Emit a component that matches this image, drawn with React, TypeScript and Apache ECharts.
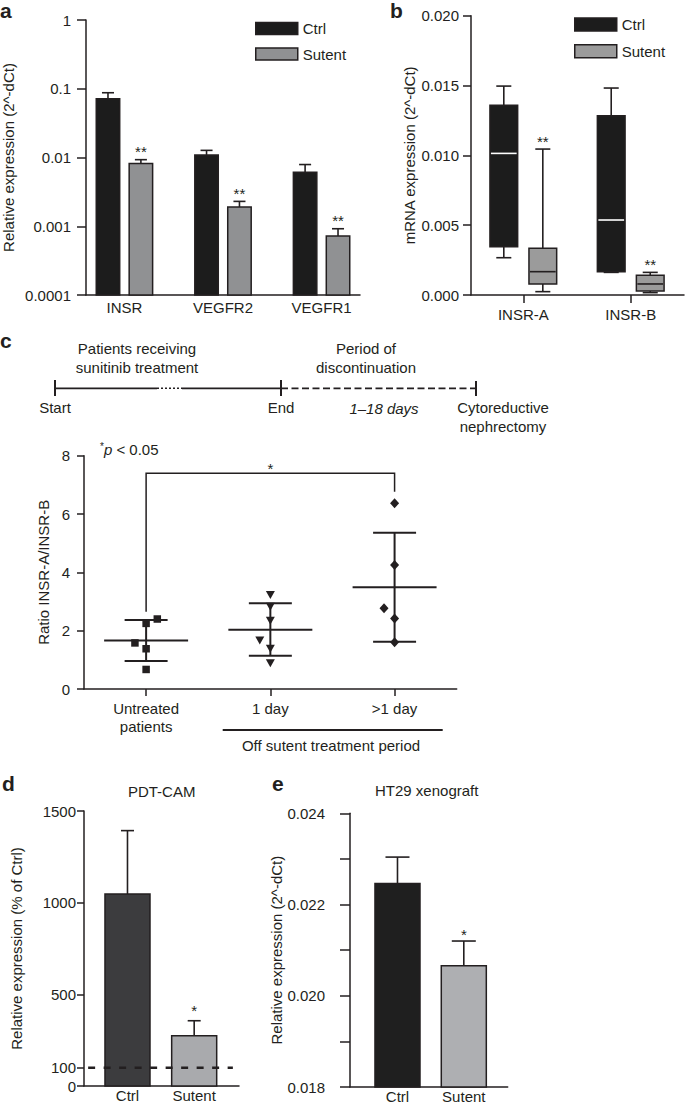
import React, { useEffect, useRef } from 'react';
import * as echarts from 'echarts';

const FONT = '"Liberation Sans", Arial, Helvetica, sans-serif';
const INK = '#231f20';

// ---------- Panel a ----------
const aCategories = ['INSR', 'VEGFR2', 'VEGFR1'];
const aCtrl = [0.0715, 0.0109, 0.0061];
const aCtrlUpper = [0.0875, 0.0127, 0.0079];
const aSutent = [0.0082, 0.0019, 0.00072];
const aSutentUpper = [0.0093, 0.0023, 0.00092];
const aSutentStars = ['**', '**', '**'];

// ---------- Panel b ---------- [min, q1, median, q3, max]
const bCategories = ['INSR-A', 'INSR-B'];
const bCtrlBox = [
  [0.00267, 0.00346, 0.01014, 0.01358, 0.01496],
  [0.00162, 0.00167, 0.00537, 0.01284, 0.01482],
];
const bSutentBox = [
  [0.00024, 0.00079, 0.00167, 0.00334, 0.01045],
  [0.00017, 0.00029, 0.00079, 0.00141, 0.00162],
];
const bSutentStars = ['**', '**'];

// ---------- Panel c ----------
const cCategories = ['Untreated\npatients', '1 day', '>1 day'];
const cUntreated = [2.4, 2.25, 1.58, 1.38, 0.67];
const cUntreatedJitter = [0.09, 0, -0.09, 0, 0];
const cOneDay = [3.22, 2.82, 2.34, 1.66, 1.38, 0.88];
const cOneDayJitter = [0, 0, 0, -0.085, 0, 0];
const cMoreDay = [6.37, 4.25, 2.77, 2.42, 1.6];
const cMoreDayJitter = [0, 0, -0.085, 0, 0];
const cMean = [1.66, 2.03, 3.49];
const cSdLow = [0.96, 1.14, 1.62];
const cSdHigh = [2.37, 2.94, 5.36];
const cBracketX = [0, 2];
const cBracketY = [2.65, 7.4, 6.76]; // left leg bottom, top, right leg bottom
const cYTicks = [0, 2, 4, 6, 8];

// ---------- Panel d ----------
const dCategories = ['Ctrl', 'Sutent'];
const dValues = [1047, 274];
const dUpper = [1393, 356];
const dStars = ['', '*'];
const dTicks = [0, 100, 500, 1000, 1500];
const dReference = 100;
const dReferenceSpan = [-0.59, 1.58];

// ---------- Panel e ----------
const eCategories = ['Ctrl', 'Sutent'];
const eValues = [0.02246, 0.02066];
const eUpper = [0.02304, 0.0212];
const eStars = ['', '*'];
const eTicks = [0.018, 0.019, 0.02, 0.021, 0.022, 0.023, 0.024];
const eLabelTicks = [0.018, 0.02, 0.022, 0.024];

const lineStyle = { color: INK, width: 1.5 };
const catFmt = (cats: string[]) => (v: number) => cats[Math.round(v)] ?? '';

function xAxisDef(gridIndex: number, min: number, max: number, cats: string[], o: any) {
  const idx = cats.map((_, i) => i);
  return {
    type: 'value',
    gridIndex,
    min,
    max,
    axisLine: { show: true, onZero: false, lineStyle },
    axisTick: { show: !!o.tickLen, length: o.tickLen || 0, customValues: idx, lineStyle },
    axisLabel: {
      customValues: idx,
      formatter: catFmt(cats),
      margin: o.margin,
      fontSize: 15,
      color: INK,
      fontFamily: FONT,
      lineHeight: o.lineHeight || 15,
    },
    splitLine: { show: false },
  };
}

function yAxisDef(gridIndex: number, o: any) {
  return {
    type: o.type || 'value',
    gridIndex,
    min: o.min,
    max: o.max,
    interval: o.interval,
    logBase: o.logBase,
    name: o.name,
    nameLocation: 'middle',
    nameRotate: 90,
    nameGap: o.nameGap,
    nameTextStyle: { fontSize: 15, color: INK, fontFamily: FONT },
    axisLine: { show: true, onZero: false, lineStyle },
    axisTick: { show: true, length: o.tickLen, lineStyle, customValues: o.tickValues },
    axisLabel: {
      fontSize: 15,
      color: INK,
      fontFamily: FONT,
      margin: o.margin,
      formatter: o.formatter || ((v: number) => String(v)),
      customValues: o.labelValues,
    },
    splitLine: { show: false },
    minorTick: { show: false },
  };
}

function barRenderer(offset: number, width: number, capW: number, base: number, fills: string[], stars: string[], starGap: number) {
  return (params: any, api: any) => {
    const i = params.dataIndex;
    const x = api.value(0) + offset;
    const v = api.value(1);
    const up = api.value(2);
    const tl = api.coord([x - width / 2, v]);
    const br = api.coord([x + width / 2, base]);
    const mid = api.coord([x, v]);
    const top = api.coord([x, up]);
    const cl = api.coord([x - capW / 2, up]);
    const cr = api.coord([x + capW / 2, up]);
    const children: any[] = [
      { type: 'line', shape: { x1: mid[0], y1: mid[1], x2: top[0], y2: top[1] }, style: { stroke: INK, lineWidth: 1.6 } },
      { type: 'line', shape: { x1: cl[0], y1: top[1], x2: cr[0], y2: top[1] }, style: { stroke: INK, lineWidth: 1.6 } },
      {
        type: 'rect',
        shape: { x: tl[0], y: tl[1], width: br[0] - tl[0], height: br[1] - tl[1] },
        style: { fill: fills[i % fills.length], stroke: INK, lineWidth: 1.5 },
      },
    ];
    if (stars[i]) {
      children.push({
        type: 'text',
        x: top[0],
        y: top[1] - starGap,
        style: { text: stars[i], fill: INK, fontSize: 15, fontFamily: FONT, align: 'center', verticalAlign: 'middle' },
      });
    }
    return { type: 'group', children };
  };
}

function boxRenderer(offset: number, width: number, capW: number, fill: string, median: string, stars: string[]) {
  return (params: any, api: any) => {
    const i = params.dataIndex;
    const x = api.value(0) + offset;
    const mn = api.value(1), q1 = api.value(2), md = api.value(3), q3 = api.value(4), mx = api.value(5);
    const pL = api.coord([x - width / 2, q3]);
    const pR = api.coord([x + width / 2, q1]);
    const cx = api.coord([x, md])[0];
    const capL = api.coord([x - capW / 2, mx])[0];
    const capR = api.coord([x + capW / 2, mx])[0];
    const y = (v: number) => api.coord([x, v])[1];
    const st = { stroke: INK, lineWidth: 1.6 };
    const children: any[] = [
      { type: 'line', shape: { x1: cx, y1: y(mx), x2: cx, y2: y(q3) }, style: st },
      { type: 'line', shape: { x1: cx, y1: y(q1), x2: cx, y2: y(mn) }, style: st },
      { type: 'line', shape: { x1: capL, y1: y(mx), x2: capR, y2: y(mx) }, style: st },
      { type: 'line', shape: { x1: capL, y1: y(mn), x2: capR, y2: y(mn) }, style: st },
      { type: 'rect', shape: { x: pL[0], y: pL[1], width: pR[0] - pL[0], height: pR[1] - pL[1] }, style: { fill, stroke: INK, lineWidth: 1.5 } },
      { type: 'line', shape: { x1: pL[0] + 1, y1: y(md), x2: pR[0] - 1, y2: y(md) }, style: { stroke: median, lineWidth: 1.6 } },
    ];
    if (stars[i]) {
      children.push({
        type: 'text',
        x: cx,
        y: y(mx) - 8,
        style: { text: stars[i], fill: INK, fontSize: 15, fontFamily: FONT, align: 'center', verticalAlign: 'middle' },
      });
    }
    return { type: 'group', children };
  };
}

function meanSdRenderer(meanW: number, capW: number) {
  return (params: any, api: any) => {
    const x = api.value(0);
    const m = api.value(1), lo = api.value(2), hi = api.value(3);
    const c = (dx: number, v: number) => api.coord([x + dx, v]);
    const st = { stroke: INK, lineWidth: 2 };
    return {
      type: 'group',
      children: [
        { type: 'line', shape: { x1: c(0, lo)[0], y1: c(0, lo)[1], x2: c(0, hi)[0], y2: c(0, hi)[1] }, style: st },
        { type: 'line', shape: { x1: c(-meanW, m)[0], y1: c(0, m)[1], x2: c(meanW, m)[0], y2: c(0, m)[1] }, style: st },
        { type: 'line', shape: { x1: c(-capW, hi)[0], y1: c(0, hi)[1], x2: c(capW, hi)[0], y2: c(0, hi)[1] }, style: st },
        { type: 'line', shape: { x1: c(-capW, lo)[0], y1: c(0, lo)[1], x2: c(capW, lo)[0], y2: c(0, lo)[1] }, style: st },
      ],
    };
  };
}

function bracketRenderer(params: any, api: any) {
  const x0 = api.value(0), x1 = api.value(1);
  const lo0 = api.value(2), top = api.value(3), lo1 = api.value(4);
  const a = api.coord([x0, lo0]);
  const b = api.coord([x0, top]);
  const c = api.coord([x1, top]);
  const d = api.coord([x1, lo1]);
  return {
    type: 'group',
    children: [
      { type: 'polyline', shape: { points: [a, b, c, d] }, style: { stroke: INK, lineWidth: 1.5, fill: 'none' } },
      {
        type: 'text',
        x: (b[0] + c[0]) / 2,
        y: b[1] - 5,
        style: { text: '*', fill: INK, fontSize: 15, fontFamily: FONT, align: 'center', verticalAlign: 'middle' },
      },
    ],
  };
}

function txt(x: number, y: number, text: string, extra: any = {}) {
  return {
    type: 'text',
    x,
    y,
    style: {
      text,
      fill: INK,
      fontSize: 15,
      fontFamily: FONT,
      align: 'center',
      verticalAlign: 'middle',
      lineHeight: 19,
      ...extra,
    },
  };
}

function gline(x1: number, y1: number, x2: number, y2: number, extra: any = {}) {
  return { type: 'line', shape: { x1, y1, x2, y2 }, style: { stroke: INK, lineWidth: 1.8, ...extra } };
}

function buildOption(): any {
  const letter = (x: number, y: number, t: string) =>
    txt(x, y, t, { fontSize: 21, fontWeight: 'bold', align: 'left' });
  const TL = 388.3;
  const markerStyle = { color: INK, opacity: 1 };
  return {
    animation: false,
    backgroundColor: '#ffffff',
    textStyle: { fontFamily: FONT, color: INK },
    grid: [
      { left: 86, top: 20, width: 274, height: 275, outerBoundsMode: 'none' },
      { left: 471, top: 15.7, width: 213, height: 279.3, outerBoundsMode: 'none' },
      { left: 84, top: 455.7, width: 372.7, height: 233.3, outerBoundsMode: 'none' },
      { left: 84, top: 811, width: 155, height: 275, outerBoundsMode: 'none' },
      { left: 350, top: 813.3, width: 157.7, height: 273.7, outerBoundsMode: 'none' },
    ],
    xAxis: [
      xAxisDef(0, -0.39, 2.39, aCategories, { margin: 5 }),
      xAxisDef(1, -0.487, 1.496, bCategories, { margin: 12, tickLen: 8 }),
      xAxisDef(2, -0.5, 2.5, cCategories, { margin: 10, tickLen: 7, lineHeight: 18.5 }),
      xAxisDef(3, -0.652, 1.672, dCategories, { margin: 2 }),
      xAxisDef(4, -0.716, 1.662, eCategories, { margin: 2 }),
    ],
    yAxis: [
      yAxisDef(0, {
        type: 'log', logBase: 10, min: 0.0001, max: 1,
        name: 'Relative expression (2^-dCt)', nameGap: 70, tickLen: 9, margin: 15,
        formatter: (v: number) => String(Number(v.toPrecision(1))),
      }),
      yAxisDef(1, {
        min: 0, max: 0.02, interval: 0.005,
        name: 'mRNA expression (2^-dCt)', nameGap: 54, tickLen: 8, margin: 12,
        formatter: (v: number) => v.toFixed(3),
      }),
      yAxisDef(2, {
        min: 0, max: 8, interval: 2,
        name: 'Ratio INSR-A/INSR-B', nameGap: 33, tickLen: 7, margin: 14,
        tickValues: cYTicks, labelValues: cYTicks,
      }),
      yAxisDef(3, {
        min: 0, max: 1500,
        name: 'Relative expression (% of Ctrl)', nameGap: 60, tickLen: 7, margin: 8,
        tickValues: dTicks, labelValues: dTicks,
        formatter: (v: number) => String(Math.round(v)),
      }),
      yAxisDef(4, {
        min: 0.018, max: 0.024,
        name: 'Relative expression (2^-dCt)', nameGap: 66, tickLen: 10, margin: 25,
        tickValues: eTicks, labelValues: eLabelTicks,
        formatter: (v: number) => v.toFixed(3),
      }),
    ],
    legend: [
      {
        left: 255, top: 21, orient: 'vertical', padding: 0, itemWidth: 42, itemHeight: 12, itemGap: 10.5,
        icon: 'rect', selectedMode: false, textStyle: { fontSize: 15, color: INK, fontFamily: FONT },
        data: [
          { name: 'Ctrl', itemStyle: { color: '#1c1c1c', borderColor: INK, borderWidth: 1.5 } },
          { name: 'Sutent', itemStyle: { color: '#909193', borderColor: INK, borderWidth: 1.5 } },
        ],
      },
      {
        left: 574, top: 17, orient: 'vertical', padding: 0, itemWidth: 42, itemHeight: 13, itemGap: 11.7,
        icon: 'rect', selectedMode: false, textStyle: { fontSize: 15, color: INK, fontFamily: FONT },
        data: [
          { name: 'Ctrl', itemStyle: { color: '#1c1c1c', borderColor: INK, borderWidth: 1.5 } },
          { name: 'Sutent', itemStyle: { color: '#9b9b9b', borderColor: INK, borderWidth: 1.5 } },
        ],
      },
    ],
    series: [
      {
        type: 'custom', name: 'Ctrl', xAxisIndex: 0, yAxisIndex: 0,
        itemStyle: { color: '#1c1c1c' },
        data: aCtrl.map((v, i) => [i, v, aCtrlUpper[i]]),
        renderItem: barRenderer(-0.167, 0.238, 0.122, 0.0001, ['#1c1c1c'], [], 0),
      },
      {
        type: 'custom', name: 'Sutent', xAxisIndex: 0, yAxisIndex: 0,
        itemStyle: { color: '#909193' },
        data: aSutent.map((v, i) => [i, v, aSutentUpper[i]]),
        renderItem: barRenderer(0.167, 0.238, 0.122, 0.0001, ['#909193'], aSutentStars, 8),
      },
      {
        type: 'custom', name: 'Ctrl', xAxisIndex: 1, yAxisIndex: 1,
        itemStyle: { color: '#1c1c1c' },
        data: bCtrlBox.map((b, i) => [i, ...b]),
        renderItem: boxRenderer(-0.1816, 0.258, 0.14, '#1c1c1c', '#ffffff', []),
      },
      {
        type: 'custom', name: 'Sutent', xAxisIndex: 1, yAxisIndex: 1,
        itemStyle: { color: '#9b9b9b' },
        data: bSutentBox.map((b, i) => [i, ...b]),
        renderItem: boxRenderer(0.1816, 0.258, 0.14, '#9b9b9b', INK, bSutentStars),
      },
      {
        type: 'custom', name: 'Mean ± SD', xAxisIndex: 2, yAxisIndex: 2,
        data: cMean.map((m, i) => [i, m, cSdLow[i], cSdHigh[i]]),
        renderItem: meanSdRenderer(0.338, 0.173),
      },
      {
        type: 'custom', name: 'Significance', xAxisIndex: 2, yAxisIndex: 2,
        data: [[cBracketX[0], cBracketX[1], cBracketY[0], cBracketY[1], cBracketY[2]]],
        renderItem: bracketRenderer,
      },
      {
        type: 'scatter', name: 'Untreated patients', xAxisIndex: 2, yAxisIndex: 2, z: 5,
        symbol: 'rect', symbolSize: 7.5, itemStyle: markerStyle,
        data: cUntreated.map((v, i) => [0 + cUntreatedJitter[i], v]),
      },
      {
        type: 'scatter', name: '1 day', xAxisIndex: 2, yAxisIndex: 2, z: 5,
        symbol: 'triangle', symbolRotate: 180, symbolSize: [9, 8], itemStyle: markerStyle,
        data: cOneDay.map((v, i) => [1 + cOneDayJitter[i], v]),
      },
      {
        type: 'scatter', name: '>1 day', xAxisIndex: 2, yAxisIndex: 2, z: 5,
        symbol: 'diamond', symbolSize: [9, 10], itemStyle: markerStyle,
        data: cMoreDay.map((v, i) => [2 + cMoreDayJitter[i], v]),
      },
      {
        type: 'custom', name: 'PDT-CAM', xAxisIndex: 3, yAxisIndex: 3,
        data: dValues.map((v, i) => [i, v, dUpper[i]]),
        renderItem: barRenderer(0, 0.675, 0.195, 0, ['#3c3c3e', '#a9aaad'], dStars, 10),
      },
      {
        type: 'line', name: 'Reference 100%', xAxisIndex: 3, yAxisIndex: 3, symbol: 'none', z: 6,
        lineStyle: { color: INK, width: 2.5, type: [7, 8.5] },
        data: dReferenceSpan.map((x) => [x, dReference]),
      },
      {
        type: 'custom', name: 'HT29 xenograft', xAxisIndex: 4, yAxisIndex: 4,
        data: eValues.map((v, i) => [i, v, eUpper[i]]),
        renderItem: barRenderer(0, 0.679, 0.362, 0.018, ['#1f1f1f', '#aeafb2'], eStars, 7),
      },
    ],
    graphic: [
      letter(0, 10, 'a'),
      letter(390, 10, 'b'),
      letter(0, 340, 'c'),
      letter(2, 783, 'd'),
      letter(272, 783, 'e'),
      // timeline
      txt(137, 357.5, 'Patients receiving\nsunitinib treatment'),
      txt(366, 357.5, 'Period of\ndiscontinuation'),
      gline(55, TL, 157, TL),
      gline(157, TL, 182, TL, { lineDash: [2, 2], lineWidth: 1.6 }),
      gline(182, TL, 281, TL),
      gline(281, TL, 475, TL, { lineDash: [7, 3.5] }),
      gline(55, 380, 55, 396, { lineWidth: 2 }),
      gline(281, 380, 281, 396, { lineWidth: 2 }),
      gline(476, 381, 476, 396, { lineWidth: 2 }),
      txt(55, 407, 'Start'),
      txt(281, 407, 'End'),
      txt(384, 408, '1–18 days', { fontStyle: 'italic' }),
      txt(503, 416.5, 'Cytoreductive\nnephrectomy'),
      // panel c annotations
      {
        type: 'text', x: 100, y: 449,
        style: {
          text: '{s|*}{i|p} < 0.05',
          fill: INK, fontSize: 15, fontFamily: FONT, align: 'left', verticalAlign: 'middle',
          rich: {
            s: { fontSize: 10, fontFamily: FONT, fill: INK, verticalAlign: 'top', lineHeight: 15 },
            i: { fontSize: 15, fontStyle: 'italic', fontFamily: FONT, fill: INK },
          },
        },
      },
      gline(222.7, 730, 442.7, 730, { lineWidth: 2 }),
      txt(331, 745, 'Off sutent treatment period'),
      // panel titles
      txt(161.7, 791, 'PDT-CAM'),
      txt(426.7, 790, 'HT29 xenograft'),
    ],
  };
}

export default function App() {
  const ref = useRef<HTMLDivElement>(null);
  useEffect(() => {
    document.body.style.margin = '0';
    const chart = echarts.init(ref.current!, null, { renderer: 'svg' });
    chart.setOption(buildOption());
    return () => chart.dispose();
  }, []);
  return <div ref={ref} style={{ width: 685, height: 1106 }} />;
}
